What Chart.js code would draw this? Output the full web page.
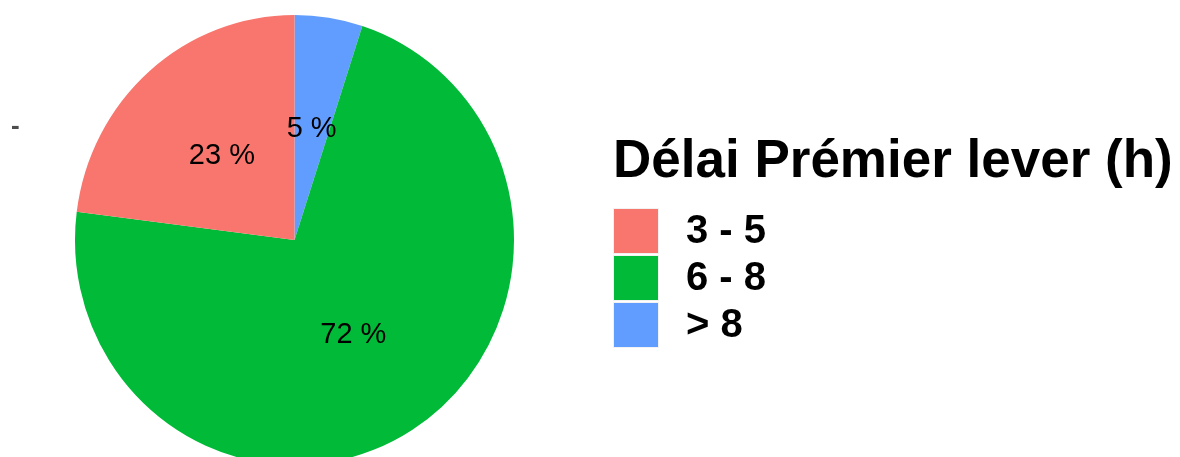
<!DOCTYPE html>
<html>
<head>
<meta charset="utf-8">
<script src="https://cdn.jsdelivr.net/npm/chart.js@4"></script>
<style>
  html, body { margin: 0; padding: 0; background: #fff; }
  #wrap { position: relative; width: 1180px; height: 457px; }
</style>
</head>
<body>
<div id="wrap"><canvas id="pie" width="1180" height="457"></canvas></div>
<script>
// Data (slice order clockwise from the top, as in the picture)
const labels = ["> 8", "6 - 8", "3 - 5"];
const values = [5, 72, 23];
const colors = ["#619CFF", "#00BA38", "#F8766D"];
const legendTitle = "Délai Prémier lever (h)";

// the original pie is a touch taller than wide
const stretchY = 1.025;
const shiftY = 5.5;

const FONT = "'Liberation Sans', Arial, sans-serif";

function mapY(chart, y) {
  const a = chart.chartArea;
  const cy = (a.top + a.bottom) / 2;
  return cy + shiftY + (y - cy) * stretchY;
}

const stretchPlugin = {
  id: "stretch",
  beforeDatasetsDraw(chart) {
    const a = chart.chartArea;
    const cx = (a.left + a.right) / 2;
    const cy = (a.top + a.bottom) / 2;
    const ctx = chart.ctx;
    ctx.save();
    ctx.translate(cx, cy + shiftY);
    ctx.scale(1, stretchY);
    ctx.translate(-cx, -cy);
  },
  afterDatasetsDraw(chart) {
    const ctx = chart.ctx;
    ctx.restore();

    // percent labels at half radius
    const meta = chart.getDatasetMeta(0);
    const total = values.reduce((s, v) => s + v, 0);
    ctx.save();
    ctx.fillStyle = "#000";
    ctx.font = "29px " + FONT;
    ctx.textAlign = "center";
    ctx.textBaseline = "middle";
    meta.data.forEach((arc, i) => {
      const p = arc.tooltipPosition();
      const pct = Math.round(values[i] / total * 100);
      ctx.fillText(pct + " %", p.x, mapY(chart, p.y));
    });
    ctx.restore();
  },
  afterDraw(chart) {
    const ctx = chart.ctx;
    ctx.save();

    // stray axis mark on the left
    ctx.fillStyle = "#4D4D4D";
    ctx.font = "bold 26px " + FONT;
    ctx.textBaseline = "alphabetic";
    ctx.fillText("-", 11, 134);

    // legend title
    ctx.fillStyle = "#000";
    ctx.font = "bold 53px " + FONT;
    ctx.fillText(legendTitle, 613, 177);

    // legend keys, in reverse of the slice order
    ctx.font = "bold 40px " + FONT;
    ctx.textBaseline = "middle";
    const order = labels.map((_, i) => i).reverse();
    order.forEach((idx, row) => {
      const y = 209 + row * 47;
      ctx.fillStyle = "#F2F2F2";
      ctx.fillRect(613, y - 1, 46, 46);
      ctx.fillStyle = colors[idx];
      ctx.fillRect(614, y, 44, 44);
      ctx.fillStyle = "#000";
      ctx.fillText(labels[idx], 686, y + 23);
    });
    ctx.restore();
  }
};

new Chart(document.getElementById("pie"), {
  type: "pie",
  data: {
    labels,
    datasets: [{
      data: values,
      backgroundColor: colors,
      borderWidth: 0,
    }],
  },
  options: {
    responsive: false,
    animation: false,
    layout: { padding: { left: 75, right: 666, top: 15, bottom: 3 } },
    plugins: {
      legend: { display: false },
      tooltip: { enabled: false },
    },
  },
  plugins: [stretchPlugin],
});
</script>
</body>
</html>
